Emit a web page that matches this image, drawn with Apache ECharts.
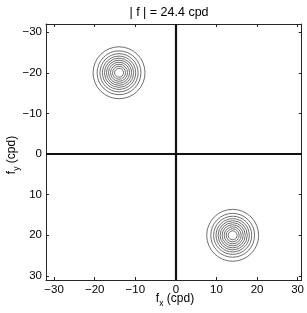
<!DOCTYPE html>
<html>
<head>
<meta charset="utf-8">
<script src="https://cdn.jsdelivr.net/npm/echarts@6/dist/echarts.min.js"></script>
<style>html,body{margin:0;padding:0;background:#fff}#c{width:307px;height:313px}</style>
</head>
<body>
<div id="c"></div>
<script>
const titleText = '| f | = 24.4 cpd';
const xTicks = [-30, -20, -10, 0, 10, 20, 30];
const yTicks = [-30, -20, -10, 0, 10, 20, 30];
const axisMin = -32, axisMax = 31;
const centersX = [-14, 14];
const centersY = [-20, 20];
const radii = [6.4, 5.4, 4.7, 4.1, 3.6, 3.1, 2.6, 2.1, 1.6, 1.1];

const circleData = [];
for (let i = 0; i < centersX.length; i++) {
  for (const r of radii) circleData.push([centersX[i], centersY[i], r]);
}
const fmt = v => (v < 0 ? '\u2212' + Math.abs(v) : String(v));
const font = 'Liberation Sans, Arial, sans-serif';
const axCol = '#262626';

function xAx(pos, labels) {
  return {
    type: 'value', position: pos, min: axisMin, max: axisMax,
    axisLine: {show: true, onZero: false, lineStyle: {color: axCol, width: 1}},
    axisTick: {show: true, inside: true, length: 3, customValues: xTicks, lineStyle: {color: axCol}},
    axisLabel: {show: labels, customValues: xTicks, formatter: fmt, color: '#000', fontSize: 11.5, fontFamily: font, margin: 4},
    splitLine: {show: false}
  };
}
function yAx(pos, labels) {
  return {
    type: 'value', position: pos, min: axisMin, max: axisMax, inverse: true,
    axisLine: {show: true, onZero: false, lineStyle: {color: axCol, width: 1}},
    axisTick: {show: true, inside: true, length: 3, customValues: yTicks, lineStyle: {color: axCol}},
    axisLabel: {show: labels, customValues: yTicks, formatter: fmt, color: '#000', fontSize: 11.5, fontFamily: font, margin: 4},
    splitLine: {show: false}
  };
}

const chart = echarts.init(document.getElementById('c'), null, {renderer: 'canvas'});
chart.setOption({
  animation: false,
  backgroundColor: '#fff',
  grid: {left: 46, top: 24, width: 256, height: 256, containLabel: false},
  xAxis: [xAx('bottom', true), xAx('top', false)],
  yAxis: [yAx('left', true), yAx('right', false)],
  graphic: [
    {type: 'text', x: 169, y: 13, style: {
      text: titleText, fill: '#000', align: 'center', verticalAlign: 'middle',
      fontSize: 12.5, fontFamily: font
    }},
    {type: 'text', x: 175, y: 299, style: {
      text: '{m|f}{s|x}{m| (cpd)}', fill: '#000', align: 'center', verticalAlign: 'middle',
      rich: {m: {fontSize: 12, fontFamily: font}, s: {fontSize: 8.5, fontFamily: font, padding: [9, 0, 0, 0]}}
    }},
    {type: 'text', x: 12, y: 155, rotation: Math.PI / 2, style: {
      text: '{m|f}{s|y}{m| (cpd)}', fill: '#000', align: 'center', verticalAlign: 'middle',
      rich: {m: {fontSize: 12, fontFamily: font}, s: {fontSize: 8.5, fontFamily: font, padding: [9, 0, 0, 0]}}
    }}
  ],
  series: [
    {
      type: 'custom', xAxisIndex: 0, yAxisIndex: 0, clip: true,
      encode: {x: 0, y: 1},
      data: circleData,
      renderItem: function (params, api) {
        const c = api.coord([api.value(0), api.value(1)]);
        const s = api.size([api.value(2), api.value(2)]);
        return {type: 'circle', shape: {cx: c[0], cy: c[1], r: s[0]},
          style: {fill: 'none', stroke: '#4a4a4a', lineWidth: 0.8}};
      },
      markLine: {
        silent: true, symbol: 'none', animation: false,
        label: {show: false},
        lineStyle: {color: '#111', width: 2.2, type: 'solid'},
        data: [{xAxis: 0}, {yAxis: 0}]
      }
    }
  ]
});
</script>
</body>
</html>
